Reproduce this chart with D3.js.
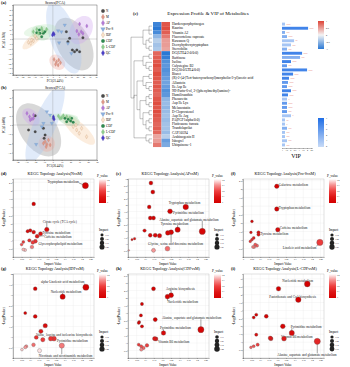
<!DOCTYPE html>
<html>
<head>
<meta charset="utf-8">
<script src="https://cdn.jsdelivr.net/npm/d3@7"></script>
<style>
body { margin: 0; background: #fff; }
svg { font-family: "Liberation Serif", "Times New Roman", serif; }
</style>
</head>
<body>
<script>
// ---------- PCA score data (PC1, PC2) ----------
var pcaGroups = ["N", "M", "AP", "Pro-S", "IDF", "CDF", "L-CDF", "QC"];
var pcaColors = ["#4a4a4a", "#e0998a", "#b57bd8", "#8db2e2", "#e9b17e", "#2e8a50", "#8ecf8e", "#4b3fc9"];
var pcaFills  = ["#8f8f8f", "#f0a59c", "#cfa3ef", "#a8c5f0", "#f6caa0", "#9ed8a6", "#c0e9c0", null];

var scoresA = [
  [[11,7.5],[24.5,1.3],[13.7,0.7],[15.9,-11.3],[17.7,-13.1],[19.6,-11.3],[21.8,-13.1],[12.3,-2.8]],
  [[1,-21],[3,-23.4],[4.8,-21.6],[2.2,-26],[4.3,-26.8],[6.2,-24.4]],
  [[21.8,15.5],[27.7,13.4],[23.1,7.5],[24.5,5.8],[21.2,4.8],[19.6,8.2]],
  [[9.7,14.4],[4.3,8.6],[12.3,-4.5],[15.1,-14.8],[5.1,-3.8],[7,7.5]],
  [[-19.9,-3.4],[-18,-4.5],[-15.9,-2.1],[-13.1,0.7],[-17.2,-1],[-14.5,3.1]],
  [[-13.1,6.5],[-10.5,5.9],[-9.1,2.4],[-7.8,5.9],[-11,9.3],[-6.5,7.5]],
  [[-15.9,7.5],[-13.1,10],[-9.1,11],[-5.1,10],[-8.3,8.2],[-11.8,5.9]],
  [[0.3,5.9],[1,4.8],[-0.3,4.1]]
];
var scoresB = [
  [[-19.9,10.1],[-27.4,-5.4],[-10.6,-3.6],[-8.7,-10.9],[-9.8,-14.5],[-19.9,-7.3]],
  [[-8.7,-18.1],[-6.7,-21],[-4.9,-16.3],[-3,-21.7],[-7.5,-23.6],[-10.6,-19.9]],
  [[-29.2,12.7],[-26.3,9],[-23.6,6.5],[-21.8,7.3],[-25.5,5.4],[-21.8,10.9]],
  [[-6.7,14.5],[-1.1,1.8],[-12.4,-1.8],[-10.6,1.8],[-18.8,-21],[-3,10.9]],
  [[23.1,-1.8],[27,-5.4],[29.9,-9],[32.6,-3.6],[26.2,0],[38.2,-12.7]],
  [[13.8,7.3],[17.5,6.2],[20.2,4.3],[15.7,3.6],[21.3,7.3],[23.1,2.9]],
  [[6.3,9.8],[10.1,7.9],[11.9,10.1],[15.7,9],[8.2,7.3],[19.4,7.9]],
  [[0.7,9],[0.7,7.3],[1.5,6.2]]
];

// ---------- Heatmap / VIP data ----------
var metabolites = ["Harderoporphyrinogen", "Kaurine", "Vitamin A2", "Fluocortolone caproate", "Kuwanon Q",
  "Deoxyhydroxytryptophan", "Stercobilin", "DG(LTE4/2:0/0:0)", "Raffinose", "Isoline", "Calystegine B2",
  "DG(20:0/LTE4/0:0)", "Biuret", "(R)-2-(4-(Tert-butoxycarbonyl)morpholin-3-yl)acetic acid", "Allantoin",
  "Ile Asp Ile", "9H-Purin-6-ol, 2-((phenylmethyl)amino)-", "Humilixanthin", "Phenacetin", "Asp Ile Lys",
  "Melanostatin", "D-Cloprostenol", "Asp Ile Arg", "PA(PGF1alpha/0:0)", "Fluticasone furoate",
  "Trandolaprilat", "CAY10594", "Arabinogenin II", "Isbogrel", "Ubiquinone-1"];
var zModel = [-0.9,-1,-0.85,-0.5,-0.3,-0.4,-0.35,0.8,0.85,0.9,0.95,0.85,0.95,0.9,0.85,0.9,0.85,0.8,0.9,0.95,0.9,0.95,0.9,0.85,0.8,0.85,0.8,0.45,0.5,0.7];
var zTreat = [0.9,0.95,0.85,0.7,0.5,0.5,0.45,-1,-0.95,-0.8,-0.75,-0.8,-0.75,-0.7,-0.65,-0.7,-0.8,-0.75,-0.5,-0.45,-0.5,-0.45,-0.4,-0.45,-0.4,-0.4,-0.45,-0.3,-0.7,-0.6];
var vip = [1.36,4.13,1.36,1.6,2.45,2.08,1.6,3.41,3.17,2.08,1.6,4.01,2.33,1.84,1.72,1.6,2.08,1.72,1.6,1.6,1.6,1.6,2.08,1.36,1.36,1.6,1.36,1.36,1.6,1.36];
var vipColorVal = [3,6,4,4,3,3,4,6,4,6,5,6,6,6,5,5,6,6,3,5,5,5,3,3,3,4,3,3,3,3];
var vipStars = ["****","****","***","****","**","***","***","****","***","****","***","****","****","****","****","****","****","****","*","****","****","***","*","**","*","***","***","***","***","***"];
var dendro = [[[0,1,2],[[3,4],[5,6]]],
  [[[7,8],[9,[10,11]]], [[[12,13],[14,[15,16]]], [[[17,18],[19,20]], [[21,22],[[23,24],[25,26]]]]], [27,[28,29]]]];
var heatTicks = [1, 0.5, 0, -0.5, -1];
var vipLegendTicks = [7, 6, 5, 4, 3, 2];

// ---------- KEGG topology data: [impact, -log(p)] ----------
var keggTitles = ["KEGG Topology Analysis(NvsM)", "KEGG Topology Analysis(APvsM)", "KEGG Topology Analysis(Pro-SvsM)",
  "KEGG Topology Analysis(IDFvsM)", "KEGG Topology Analysis(CDFvsM)", "KEGG Topology Analysis(L-CDFvsM)"];
var keggLetters = ["(d)", "(e)", "(f)", "(g)", "(h)", "(i)"];
var keggYMax = [4.7, 6, 4.6, 4, 5.6, 5.3];
var keggImpactTicks = [[0.1,0.2,0.3,0.4],[0.1,0.2,0.3,0.41],[0.12,0.22,0.33,0.43],[0.12,0.22,0.32,0.42],[0.17,0.27,0.38,0.49],[0.12,0.22,0.32,0.36]];
var keggNvsM = [[0.42,4.3],[0.12,3.2],[0.196,1.65],[0.16,1.4],[0.14,1.25],[0.13,0.95],[0.085,1.55],[0.1,1.6],[0.12,1.5],[0.06,0.9],[0.05,0.75],[0.06,0.45],[0.07,0.42],[0.11,0.6],[0.115,0.88],[0.095,1.0]];
var keggAPvsM = [[0.133,5.69],[0.144,5.0],[0.123,3.85],[0.335,3.85],[0.244,3.51],[0.431,1.97],[0.288,2.1],[0.25,1.9],[0.231,1.85],[0.129,3.0],[0.148,3.0],[0.096,2.03],[0.129,1.67],[0.158,1.67],[0.183,1.64],[0.038,1.41],[0.023,1.33],[0.005,0.51],[0.148,0.51],[0.229,0.64]];
var keggProSvsM = [[0.196,4.17],[0.196,2.83],[0.202,1.61],[0.09,1.45],[0.446,0.86],[0.052,2.1],[0.046,1.45],[0.09,1.32],[0.062,1.12],[0.052,1.02],[0.042,0.92],[0.071,0.73],[0.058,0.59],[0.065,0.59],[0.081,0.67]];
var keggIDFvsM = [[0.423,3.37],[0.129,3.3],[0.288,2.92],[0.071,2.14],[0.129,1.98],[0.187,1.54],[0.162,1.27],[0.135,0.98],[0.173,0.87],[0.219,0.92],[0.238,0.92],[0.283,0.59],[0.119,0.63],[0.077,0.56],[0.071,0.51],[0.052,0.4],[0.154,0.35]];
var keggCDFvsM = [[0.148,4.62],[0.25,4.18],[0.229,4.09],[0.081,3.6],[0.075,2.84],[0.065,2.4],[0.081,2.11],[0.062,2.33],[0.158,2.56],[0.206,1.67],[0.423,1.89],[0.154,1.29],[0.162,1.27],[0.062,0.89],[0.077,0.78],[0.11,0.84],[0.09,0.67],[0.077,0.56]];
var keggLCDFvsM = [[0.373,4.67],[0.206,4.37],[0.321,3.68],[0.077,2.73],[0.062,2.55],[0.135,2.63],[0.231,2.0],[0.283,1.58],[0.158,1.26],[0.162,1.22],[0.238,1.22],[0.431,1.05],[0.077,1.47],[0.085,0.84],[0.062,0.74],[0.046,0.67]];
// pathway names: [point index, name]
var keggNames = [
  [[0,"Tryptophan metabolism"],[2,"Citrate cycle (TCA cycle)"],[3,"Tyrosine metabolism"],[4,"Caffeine metabolism"],[5,"Glycerophospholipid metabolism"]],
  [[3,"Tryptophan metabolism"],[4,"Pyrimidine metabolism"],[5,"Alanine, aspartate and glutamate metabolism"],[6,"Tyrosine metabolism"],[7,"Glycine, serine and threonine metabolism"]],
  [[0,"Galactose metabolism"],[1,"Tryptophan metabolism"],[2,"Caffeine metabolism"],[3,"Tyrosine metabolism"],[4,"Linoleic acid metabolism"]],
  [[0,"alpha-Linolenic acid metabolism"],[2,"Nucleotide metabolism"],[6,"Valine, leucine and isoleucine biosynthesis"],[10,"Pyrimidine metabolism"],[11,"Nicotinate and nicotinamide metabolism"]],
  [[1,"Arginine biosynthesis"],[2,"Nucleotide metabolism"],[10,"Alanine, aspartate and glutamate metabolism"],[9,"Pyrimidine metabolism"],[12,"Vitamin B6 metabolism"]],
  [[0,"Nucleotide metabolism"],[2,"Pantothenate and CoA biosynthesis"],[7,"Pyrimidine metabolism"],[10,"Vitamin B6 metabolism"],[11,"Alanine, aspartate and glutamate metabolism"]]
];
// label offsets (px) from the point, layout only
var keggLabelOffsets = [
  [[-38,-4],[-4,-8],[2,-1],[7,1],[3,3]],
  [[-17,-4],[3,1.5],[-43,-12],[-17,-6],[-23,12]],
  [[2,-1.5],[2,-1.5],[2,-2],[2,1],[-37,5.5]],
  [[-45,-5],[-12,-5],[-5,4],[3,2.5],[-23,10]],
  [[-5,-6],[0,5.5],[-39,-11.7],[-3.5,-5],[2,2.5]],
  [[-25,-3],[-29,-2.5],[-1,-6],[-3,-2],[-40,13.5]]
];

var svg = d3.select("body").append("svg").attr("width", 350).attr("height", 367);
var defs = svg.append("defs");

function styleAxis(a, fs) {
  a.attr("font-size", fs).attr("font-family", "Liberation Serif, serif");
  a.selectAll("line,path").attr("stroke", "#222").attr("stroke-width", 0.3);
}

// covariance ellipse in data space
function ellipsePts(p, k) {
  var n = p.length, mx = d3.mean(p, function(d) { return d[0]; }), my = d3.mean(p, function(d) { return d[1]; });
  var sxx = 0, syy = 0, sxy = 0;
  p.forEach(function(d) { sxx += (d[0]-mx)*(d[0]-mx); syy += (d[1]-my)*(d[1]-my); sxy += (d[0]-mx)*(d[1]-my); });
  sxx /= n-1; syy /= n-1; sxy /= n-1;
  var tr = sxx + syy, det = sxx*syy - sxy*sxy, disc = Math.sqrt(Math.max(tr*tr/4 - det, 0));
  var l1 = tr/2 + disc, l2 = Math.max(tr/2 - disc, 0.01);
  var th = Math.abs(sxy) < 1e-9 ? (sxx >= syy ? 0 : Math.PI/2) : Math.atan2(l1 - sxx, sxy);
  var a = k*Math.sqrt(l1), b = k*Math.sqrt(l2);
  return d3.range(72).map(function(i) {
    var t = i/72*2*Math.PI, ex = a*Math.cos(t), ey = b*Math.sin(t);
    return [mx + ex*Math.cos(th) - ey*Math.sin(th), my + ex*Math.sin(th) + ey*Math.cos(th)];
  });
}

var pcaShapes = [d3.symbolCircle, d3.symbolDiamond, d3.symbolDiamond, d3.symbolTriangle, d3.symbolDiamond, d3.symbolCircle, d3.symbolDiamond, d3.symbolDiamond];

function drawPCA(ox, oy, id, letter, scores, xDom, yDom, xTicks, yTicks, xLab, yLab) {
  var g = svg.append("g").attr("transform", "translate(" + ox + "," + oy + ")");
  var x = d3.scaleLinear().domain(xDom).range([13, 97]);
  var y = d3.scaleLinear().domain(yDom).range([75, 5]);
  defs.append("clipPath").attr("id", id).append("rect").attr("x", 13).attr("y", 5).attr("width", 84).attr("height", 70);
  var plot = g.append("g").attr("clip-path", "url(#" + id + ")");
  var line = d3.line().x(function(d) { return x(d[0]); }).y(function(d) { return y(d[1]); }).curve(d3.curveLinearClosed);
  scores.forEach(function(p, i) {
    if (!pcaFills[i]) return;
    plot.append("path").attr("d", line(ellipsePts(p, 3.4)))
      .attr("fill", pcaFills[i]).attr("fill-opacity", 0.35).attr("stroke", "none");
  });
  plot.append("line").attr("x1", x(0)).attr("x2", x(0)).attr("y1", 5).attr("y2", 75).attr("stroke", "#888").attr("stroke-width", 0.3);
  plot.append("line").attr("y1", y(0)).attr("y2", y(0)).attr("x1", 13).attr("x2", 97).attr("stroke", "#888").attr("stroke-width", 0.3);
  scores.forEach(function(p, i) {
    plot.selectAll(null).data(p).join("path")
      .attr("transform", function(d) { return "translate(" + x(d[0]) + "," + y(d[1]) + ")" + (i === 3 ? " rotate(180)" : ""); })
      .attr("d", d3.symbol().type(pcaShapes[i]).size(5))
      .attr("fill", i === 4 ? "#fbe3cc" : pcaColors[i]).attr("stroke", d3.color(pcaColors[i]).darker(0.6)).attr("stroke-width", 0.25);
  });
  g.append("rect").attr("x", 13).attr("y", 5).attr("width", 84).attr("height", 70).attr("fill", "none").attr("stroke", "#222").attr("stroke-width", 0.35);
  g.append("g").attr("transform", "translate(0,75)")
    .call(d3.axisBottom(x).tickValues(xTicks).tickSize(1).tickPadding(0.6)).call(styleAxis, 2.2);
  g.append("g").attr("transform", "translate(13,0)")
    .call(d3.axisLeft(y).tickValues(yTicks).tickSize(1).tickPadding(0.6)).call(styleAxis, 2.2);
  g.append("text").attr("x", 55).attr("y", 3.6).attr("text-anchor", "middle").attr("font-size", 3.8).text("Scores(PCA)");
  g.append("text").attr("x", 1).attr("y", 4.2).attr("font-size", 4.4).attr("font-weight", "bold").text(letter);
  g.append("text").attr("x", 55).attr("y", 82).attr("text-anchor", "middle").attr("font-size", 3).text(xLab);
  g.append("text").attr("transform", "translate(5,40) rotate(-90)").attr("text-anchor", "middle").attr("font-size", 3).text(yLab);
  var leg = g.append("g").selectAll("g").data(pcaGroups).join("g")
    .attr("transform", function(d, i) { return "translate(103," + (11 + i*6) + ")"; });
  leg.append("path").attr("d", function(d, i) { return d3.symbol().type(pcaShapes[i]).size(9)(); })
    .attr("transform", function(d, i) { return i === 3 ? "rotate(180)" : null; })
    .attr("fill", function(d, i) { return i === 4 ? "#fbe3cc" : pcaColors[i]; })
    .attr("stroke", function(d, i) { return d3.color(pcaColors[i]).darker(0.6); }).attr("stroke-width", 0.3);
  leg.append("text").attr("x", 3).attr("dy", "0.35em").attr("font-size", 3.2).text(function(d) { return d; });
}

drawPCA(0, 0, "clipA", "(a)", scoresA, [-32.5, 36], [-37, 35], d3.range(-30, 36, 5), d3.range(-35, 31, 5), "PC1(21.44%)", "PC2(13.76%)");
drawPCA(0, 85, "clipB", "(b)", scoresB, [-45, 50], [-38, 38], d3.range(-40, 51, 10), d3.range(-30, 31, 10), "PC1(26.44%)", "PC2(13.60%)");

// ---------- (c) heatmap + VIP ----------
(function() {
  var g = svg.append("g");
  var rows = d3.scaleBand().domain(d3.range(metabolites.length)).range([22, 147]);
  var cols = d3.scaleBand().domain(["model", "treat"]).range([153, 170]);
  var heatColor = d3.scaleLinear().domain([-1, 0, 1]).range(["#2a78d4", "#f4f4f4", "#de4437"]);
  g.append("text").attr("x", 133).attr("y", 14.5).attr("font-size", 4.4).attr("font-weight", "bold").text("(c)");
  g.append("text").attr("x", 208).attr("y", 15).attr("text-anchor", "middle").attr("font-size", 5).text("Expression Profile & VIP of Metabolites");

  [zModel, zTreat].forEach(function(vals, c) {
    g.selectAll(null).data(vals).join("rect")
      .attr("x", cols(c === 0 ? "model" : "treat")).attr("width", cols.bandwidth())
      .attr("y", function(d, i) { return rows(i); }).attr("height", rows.bandwidth() + 0.05)
      .attr("fill", function(d) { return heatColor(d); });
  });
  g.selectAll(null).data(metabolites).join("text")
    .attr("x", 172).attr("y", function(d, i) { return rows(i) + rows.bandwidth()/2; })
    .attr("dy", "0.35em").attr("font-size", 3.5).text(function(d) { return d; });

  // dendrogram
  var root = d3.hierarchy(dendro, function(d) { return Array.isArray(d) ? d : null; });
  d3.cluster().size([rows.step()*(metabolites.length - 1), 21]).separation(function() { return 1; })(root);
  var dg = g.append("g").attr("transform", "translate(131," + (22 + rows.step()/2) + ")");
  dg.selectAll("path").data(root.links()).join("path")
    .attr("d", function(l) { return "M" + l.source.y + "," + l.source.x + "V" + l.target.x + "H" + l.target.y; })
    .attr("fill", "none").attr("stroke", "#333").attr("stroke-width", 0.3);

  // VIP bars
  var xv = d3.scaleLinear().domain([1, 4.6]).range([282, 312]);
  var blue = d3.scaleLinear().domain([2, 7]).range(["#c8dbf7", "#1f6ee6"]);
  g.selectAll(null).data(vip).join("rect")
    .attr("x", xv(1)).attr("y", function(d, i) { return rows(i) + rows.bandwidth()*0.15; })
    .attr("width", function(d) { return xv(d) - xv(1); }).attr("height", rows.bandwidth()*0.7)
    .attr("fill", function(d, i) { return blue(vipColorVal[i]); });
  g.selectAll(null).data(vip).join("text")
    .attr("x", function(d) { return xv(d) + 1.5; }).attr("y", function(d, i) { return rows(i) + rows.bandwidth()/2; })
    .attr("dy", "0.35em").attr("font-size", 2).attr("fill", "#e0403a").text(function(d, i) { return vipStars[i]; });
  g.append("g").attr("transform", "translate(0,148)")
    .call(d3.axisBottom(xv).tickValues(d3.range(1, 4.6, 0.5)).tickSize(0.8).tickPadding(0.5).tickFormat(d3.format("~g"))).call(styleAxis, 2);
  g.append("text").attr("x", 296).attr("y", 158).attr("text-anchor", "middle").attr("font-size", 6).text("VIP");

  // legends
  var gr1 = defs.append("linearGradient").attr("id", "heatLeg").attr("x1", 0).attr("x2", 0).attr("y1", 0).attr("y2", 1);
  heatTicks.forEach(function(t, i) { gr1.append("stop").attr("offset", i/(heatTicks.length - 1)).attr("stop-color", heatColor(t)); });
  var hl = d3.scaleLinear().domain([1, -1]).range([21, 49]);
  g.append("rect").attr("x", 318).attr("y", 21).attr("width", 6).attr("height", 28).attr("fill", "url(#heatLeg)");
  g.selectAll(null).data(heatTicks).join("text").attr("x", 326).attr("y", function(d) { return hl(d); })
    .attr("dy", "0.35em").attr("font-size", 2.3).text(function(d) { return d; });
  var gr2 = defs.append("linearGradient").attr("id", "vipLeg").attr("x1", 0).attr("x2", 0).attr("y1", 0).attr("y2", 1);
  gr2.append("stop").attr("offset", 0).attr("stop-color", blue(7));
  gr2.append("stop").attr("offset", 1).attr("stop-color", blue(2));
  var vl = d3.scaleLinear().domain([7, 2]).range([118.5, 146]);
  g.append("rect").attr("x", 318).attr("y", 118).attr("width", 6).attr("height", 29).attr("fill", "url(#vipLeg)");
  g.selectAll(null).data(vipLegendTicks).join("text").attr("x", 326).attr("y", function(d) { return vl(d); })
    .attr("dy", "0.35em").attr("font-size", 2.3).text(function(d) { return d; });
})();

// ---------- KEGG topology panels ----------
var keggData = [keggNvsM, keggAPvsM, keggProSvsM, keggIDFvsM, keggCDFvsM, keggLCDFvsM];
var rScale = d3.scaleSqrt().domain([0, 0.5]).range([0.5, 3.3]);
var pColor = d3.scaleLinear().domain([0, 0.15, 0.5]).range(["#d40000", "#ee4040", "#ffffff"]).clamp(true);

keggData.forEach(function(pts, k) {
  var ox = (k % 3)*115, oy = k < 3 ? 170 : 265;
  var bottom = k < 3 ? 87 : 93;
  var g = svg.append("g").attr("transform", "translate(" + ox + "," + oy + ")");
  var x = d3.scaleLinear().domain([0, 0.47]).range([13, 94]);
  var y = d3.scaleLinear().domain([0, keggYMax[k]]).range([bottom, 9]);
  var xt = d3.range(0, 0.46, 0.05), yt = d3.range(0.5, keggYMax[k] + 0.001, 0.5);
  g.append("g").selectAll("line").data(xt).join("line").attr("x1", x).attr("x2", x).attr("y1", 9).attr("y2", bottom)
    .attr("stroke", "#e6e6e6").attr("stroke-width", 0.3);
  g.append("g").selectAll("line").data(yt).join("line").attr("y1", y).attr("y2", y).attr("x1", 13).attr("x2", 94)
    .attr("stroke", "#e6e6e6").attr("stroke-width", 0.3);
  g.append("rect").attr("x", 13).attr("y", 9).attr("width", 81).attr("height", bottom - 9)
    .attr("fill", "none").attr("stroke", "#aaa").attr("stroke-width", 0.35);
  g.append("g").attr("transform", "translate(0," + bottom + ")")
    .call(d3.axisBottom(x).tickValues(xt).tickSize(0.8).tickPadding(0.5).tickFormat(d3.format("~g"))).call(styleAxis, 2.1);
  g.append("g").attr("transform", "translate(13,0)")
    .call(d3.axisLeft(y).tickValues(yt).tickSize(0.8).tickPadding(0.5).tickFormat(d3.format("~g"))).call(styleAxis, 2.1);

  // leader lines + names
  var lab = g.append("g");
  keggNames[k].forEach(function(n, j) {
    var p = pts[n[0]], px = x(p[0]), py = y(p[1]);
    var off = keggLabelOffsets[k][j];
    var t = lab.append("text").attr("x", px + off[0]).attr("y", py + off[1]).attr("dy", "0.35em")
      .attr("font-size", 3.3).attr("fill", "#222").text(n[1]);
    var w = t.node().getComputedTextLength();
    var lx = Math.max(px + off[0], Math.min(px, px + off[0] + w));
    var ly = py + off[1] + (off[1] < 0 ? 1.3 : -1.5);
    if (Math.hypot(lx - px, ly - py) > 3.5) {
      lab.insert("line", "text").attr("x1", px).attr("y1", py).attr("x2", lx).attr("y2", ly)
        .attr("stroke", "#333").attr("stroke-width", 0.45);
    }
  });

  g.append("g").selectAll("circle").data(pts.slice().sort(function(a, b) { return b[0] - a[0]; })).join("circle")
    .attr("cx", function(d) { return x(d[0]); }).attr("cy", function(d) { return y(d[1]); })
    .attr("r", function(d) { return rScale(d[0]); })
    .attr("fill", function(d) { return pColor(Math.pow(10, -d[1])); })
    .attr("stroke", "#555").attr("stroke-width", 0.3);

  g.append("text").attr("x", 55).attr("y", 5).attr("text-anchor", "middle").attr("font-size", 4).text(keggTitles[k]);
  g.append("text").attr("x", 1).attr("y", 5).attr("font-size", 4.4).attr("font-weight", "bold").text(keggLetters[k]);
  g.append("text").attr("x", 53).attr("y", bottom + 7.5).attr("text-anchor", "middle").attr("font-size", 3.3).text("Impact Value");
  g.append("text").attr("transform", "translate(5," + ((9 + bottom)/2) + ") rotate(-90)").attr("text-anchor", "middle")
    .attr("font-size", 3.3).text("-Log(Pvalue)");

  // P_value legend
  var gid = "pg" + k;
  var gr = defs.append("linearGradient").attr("id", gid).attr("x1", 0).attr("x2", 0).attr("y1", 0).attr("y2", 1);
  [0.5, 0.3, 0.15, 0.05, 0].forEach(function(v, i, arr) { gr.append("stop").attr("offset", i/(arr.length - 1)).attr("stop-color", pColor(v)); });
  g.append("text").attr("x", 97).attr("y", 7).attr("font-size", 3.4).text("P_value");
  g.append("rect").attr("x", 99).attr("y", 9).attr("width", 7).attr("height", 24).attr("fill", "url(#" + gid + ")");
  var pl = d3.scaleLinear().domain([0.4, 0]).range([10, 32]);
  g.selectAll(null).data([0.4, 0.3, 0.2, 0.1, 0]).join("text").attr("x", 107).attr("y", function(d) { return pl(d); })
    .attr("dy", "0.35em").attr("font-size", 1.9).text(function(d) { return d; });

  // Impact legend
  var iy = k < 3 ? 61 : 68;
  g.append("text").attr("x", 99).attr("y", iy).attr("font-size", 3.3).text("Impact");
  var il = g.selectAll(null).data(keggImpactTicks[k]).join("g")
    .attr("transform", function(d, i) { return "translate(102," + (iy + 4 + i*4) + ")"; });
  il.append("circle").attr("r", function(d) { return rScale(d)*0.85; }).attr("fill", "#222");
  il.append("text").attr("x", 3.5).attr("dy", "0.35em").attr("font-size", 1.9).text(function(d) { return d3.format(".2f")(d); });
});
</script>
</body>
</html>
